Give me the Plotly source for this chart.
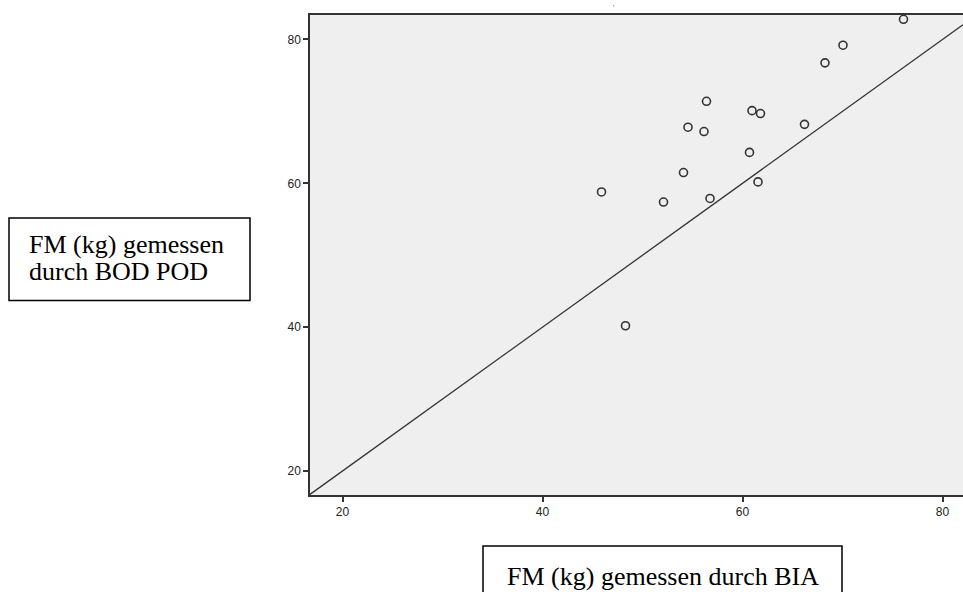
import plotly.graph_objects as go

# Data (FM in kg)
bia_fm = [76.1, 70.05, 68.25, 56.4, 60.95, 61.8, 54.55, 56.15, 66.2, 60.7,
          54.1, 61.55, 45.9, 52.1, 56.75, 48.3]
bodpod_fm = [82.8, 79.2, 76.75, 71.4, 70.1, 69.7, 67.8, 67.2, 68.2, 64.3,
             61.5, 60.2, 58.8, 57.4, 57.9, 40.2]

x_range = [16.75, 82.05]
y_range = [16.67, 83.4]
tick_vals = [20, 40, 60, 80]
tick_text = ["20", "40", "60", "80"]

x_label = "FM (kg) gemessen durch BIA"
y_label_lines = ["FM (kg) gemessen", "durch BOD POD"]

W, H = 963, 592
L, R, T, B = 310, 0, 15, 97
pw, ph = W - L - R, H - T - B


def px(xp):
    return (xp - L) / pw


def py(yp):
    return (H - B - yp) / ph


fig = go.Figure()

# identity reference line across the axis range
fig.add_trace(go.Scatter(
    x=x_range, y=x_range, mode="lines",
    line=dict(color="#333333", width=1.3), hoverinfo="skip", showlegend=False))

fig.add_trace(go.Scatter(
    x=bia_fm, y=bodpod_fm, mode="markers",
    marker=dict(symbol="circle-open", size=8, color="#333333",
                line=dict(width=1.6, color="#333333")),
    showlegend=False))

axis_common = dict(
    showgrid=False, zeroline=False, showline=True, linecolor="#333333",
    linewidth=1.5, ticks="outside", ticklen=5, tickwidth=1.5,
    tickcolor="#333333", tickvals=tick_vals, ticktext=tick_text,
    tickfont=dict(family="Arial, Liberation Sans", size=12, color="#222222"),
)

fig.update_xaxes(range=x_range, mirror=True, **axis_common)
fig.update_yaxes(range=y_range, mirror=False, **axis_common)

shapes = [
    dict(type="rect", xref="paper", yref="paper",
         x0=px(9), x1=px(250), y0=py(218), y1=py(300.5),
         line=dict(color="black", width=1.5), fillcolor="white", layer="above"),
    dict(type="rect", xref="paper", yref="paper",
         x0=px(483), x1=px(842), y0=py(546), y1=py(610),
         line=dict(color="black", width=1.5), fillcolor="white", layer="above"),
]

font_serif = dict(family="Liberation Serif, Times New Roman, serif", size=26, color="black")
annotations = [
    dict(text=y_label_lines[0], xref="paper", yref="paper", x=px(27), y=py(245),
         xanchor="left", yanchor="middle", showarrow=False, font=font_serif),
    dict(text=y_label_lines[1], xref="paper", yref="paper", x=px(27), y=py(271),
         xanchor="left", yanchor="middle", showarrow=False, font=font_serif),
    dict(text=x_label, xref="paper", yref="paper", x=px(662.5), y=py(576),
         xanchor="center", yanchor="middle", showarrow=False, font=font_serif),
    dict(text="'", xref="paper", yref="paper", x=px(613), y=py(8),
         xanchor="center", yanchor="middle", showarrow=False,
         font=dict(family="Arial", size=7, color="#333333")),
]

fig.update_layout(
    width=W, height=H,
    margin=dict(l=L, r=R, t=T, b=B, pad=0),
    paper_bgcolor="white", plot_bgcolor="#efefef",
    shapes=shapes, annotations=annotations, showlegend=False,
)

fig.write_html("out.html")
